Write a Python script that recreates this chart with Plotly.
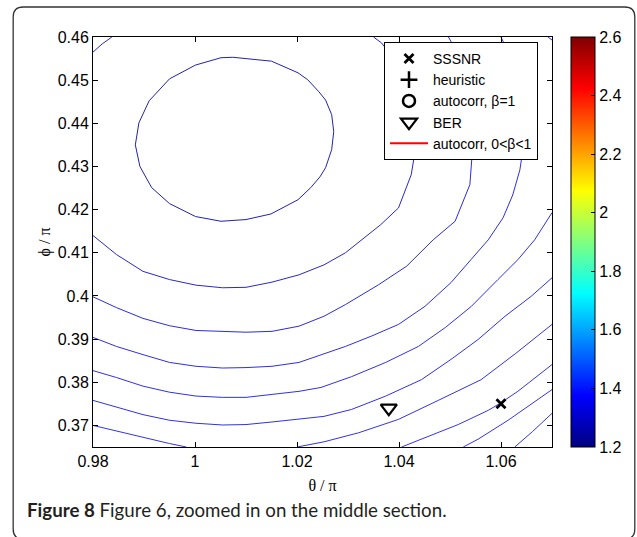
import plotly.graph_objects as go

# ---------------- data ----------------
x_ticks = [0.98, 1.0, 1.02, 1.04, 1.06]
x_ticktext = ["0.98", "1", "1.02", "1.04", "1.06"]
y_ticks = [0.37, 0.38, 0.39, 0.40, 0.41, 0.42, 0.43, 0.44, 0.45, 0.46]
y_ticktext = ["0.37", "0.38", "0.39", "0.4", "0.41", "0.42", "0.43", "0.44", "0.45", "0.46"]
cbar_ticks = [1.2, 1.4, 1.6, 1.8, 2.0, 2.2, 2.4, 2.6]
cbar_ticktext = ["1.2", "1.4", "1.6", "1.8", "2", "2.2", "2.4", "2.6"]

# contour lines (theta/pi, phi/pi)
ring1_x = [1.0074, 1.0150, 1.0202, 1.0221, 1.0243, 1.0256, 1.0268, 1.0272, 1.0268, 1.0256, 1.0245,
           1.0227, 1.0202, 1.0149, 1.0100, 1.0051, 1.0001, 0.9950, 0.9915, 0.9892, 0.9883, 0.9890,
           0.9910, 0.9950, 1.0001, 1.0051, 1.0074]
ring1_y = [0.4553, 0.4544, 0.4517, 0.4501, 0.4473, 0.4454, 0.4420, 0.4381, 0.4339, 0.4297, 0.4276,
           0.4251, 0.4223, 0.4190, 0.4177, 0.4173, 0.4184, 0.4214, 0.4251, 0.4300, 0.4350, 0.4401,
           0.4452, 0.4503, 0.4535, 0.4552, 0.4553]
ring2a_x = [0.98, 0.9818, 0.9837]
ring2a_y = [0.4565, 0.4584, 0.46]
ring2_x = [0.98, 0.9823, 0.9846, 0.9898, 0.9950, 1.0002, 1.0054, 1.0100, 1.0151, 1.0204, 1.0253,
           1.0295, 1.0327, 1.0364, 1.0399, 1.0424, 1.0432, 1.0436, 1.0432, 1.0420, 1.0399, 1.0366, 1.0350]
ring2_y = [0.4140, 0.4119, 0.4096, 0.4057, 0.4038, 0.4025, 0.4019, 0.4020, 0.4032, 0.4049, 0.4072,
           0.4100, 0.4130, 0.4165, 0.4204, 0.4281, 0.4339, 0.4373, 0.4420, 0.4477, 0.4535, 0.4586, 0.46]
ring3_x = [0.98, 0.9846, 0.9898, 0.9950, 1.0002, 1.0054, 1.0100, 1.0151, 1.0204, 1.0253, 1.0295,
           1.0360, 1.0415, 1.0467, 1.0510, 1.0539, 1.0545, 1.0547, 1.0541, 1.0526, 1.0506, 1.0497]
ring3_y = [0.3998, 0.3973, 0.3948, 0.3931, 0.3920, 0.3917, 0.3916, 0.3918, 0.3930, 0.3953, 0.3980,
           0.4026, 0.4069, 0.4130, 0.4173, 0.4258, 0.4339, 0.4385, 0.4454, 0.4524, 0.4581, 0.46]
ring4_x = [0.98, 0.9846, 0.9898, 0.9950, 1.0002, 1.0054, 1.0100, 1.0151, 1.0204, 1.0247, 1.0295,
           1.0346, 1.0399, 1.0451, 1.0502, 1.0541, 1.0575, 1.0604, 1.0623, 1.0637, 1.0643, 1.0645,
           1.0641, 1.0629, 1.0614, 1.0600]
ring4_y = [0.3904, 0.3883, 0.3864, 0.3846, 0.3837, 0.3833, 0.3834, 0.3837, 0.3846, 0.3863, 0.3883,
           0.3907, 0.3934, 0.3976, 0.4031, 0.4084, 0.4130, 0.4181, 0.4234, 0.4292, 0.4339, 0.4385,
           0.4443, 0.4512, 0.4565, 0.46]
ring5_x = [0.98, 0.9846, 0.9898, 0.9950, 1.0002, 1.0054, 1.0100, 1.0151, 1.0204, 1.0247, 1.0307,
           1.0374, 1.0438, 1.0491, 1.0541, 1.0594, 1.0633, 1.0666, 1.07]
ring5_y = [0.3827, 0.3811, 0.3791, 0.3777, 0.3768, 0.3765, 0.3765, 0.3772, 0.3779, 0.3788, 0.3813,
           0.3846, 0.3883, 0.3927, 0.3975, 0.4038, 0.4084, 0.4130, 0.4193]
ring5b_x = [1.0692, 1.07]
ring5b_y = [0.46, 0.4593]
ring6_x = [0.98, 0.9846, 0.9898, 0.9950, 1.0002, 1.0054, 1.0100, 1.0151, 1.0204, 1.0253, 1.0307,
           1.0374, 1.0444, 1.0502, 1.0555, 1.0608, 1.0659, 1.07]
ring6_y = [0.3758, 0.3742, 0.3725, 0.3712, 0.3705, 0.3701, 0.3702, 0.3708, 0.3714, 0.3721, 0.3737,
           0.3768, 0.3806, 0.3853, 0.3899, 0.3953, 0.3999, 0.4042]
ring7a_x = [0.98, 0.9846, 0.9898, 0.9950, 0.9983]
ring7a_y = [0.3700, 0.3687, 0.3672, 0.3658, 0.3650]
ring7b_x = [1.0200, 1.0253, 1.0321, 1.0399, 1.0477, 1.0561, 1.0629, 1.07]
ring7b_y = [0.3650, 0.3662, 0.3683, 0.3714, 0.3758, 0.3806, 0.3867, 0.3934]
ring8_x = [1.0405, 1.0458, 1.0516, 1.0575, 1.0598, 1.0633, 1.07]
ring8_y = [0.3650, 0.3675, 0.3702, 0.3735, 0.3751, 0.3779, 0.3841]
ring9_x = [1.0526, 1.0555, 1.0614, 1.0672, 1.07]
ring9_y = [0.3650, 0.3668, 0.3712, 0.3760, 0.3783]
ring10_x = [1.0627, 1.0662, 1.07]
ring10_y = [0.3650, 0.3686, 0.3728]

# estimator points
sssnr_x = [1.06]
sssnr_y = [0.375]
ber_x = [1.038]
ber_y = [0.374]

# ---------------- figure ----------------
fig = go.Figure()

contours = [
    (ring1_x, ring1_y, "#2222b0"),
    (ring2a_x, ring2a_y, "#2828cc"),
    (ring2_x, ring2_y, "#2828cc"),
    (ring3_x, ring3_y, "#2c2cdc"),
    (ring4_x, ring4_y, "#2e2ee4"),
    (ring5_x, ring5_y, "#3030e8"),
    (ring5b_x, ring5b_y, "#3030e8"),
    (ring6_x, ring6_y, "#3030ea"),
    (ring7a_x, ring7a_y, "#3232ec"),
    (ring7b_x, ring7b_y, "#3232ec"),
    (ring8_x, ring8_y, "#3434ee"),
    (ring9_x, ring9_y, "#3434ee"),
    (ring10_x, ring10_y, "#3434ee"),
]
for cx, cy, col in contours:
    fig.add_trace(go.Scatter(x=cx, y=cy, mode="lines", line=dict(color=col, width=1),
                             showlegend=False, hoverinfo="skip"))

fig.add_trace(go.Scatter(x=sssnr_x, y=sssnr_y, mode="markers", name="SSSNR",
                         marker=dict(symbol="x-thin", size=9, color="black",
                                     line=dict(color="black", width=2.8))))
fig.add_trace(go.Scatter(x=[None], y=[None], mode="markers", name="heuristic",
                         marker=dict(symbol="cross-thin", size=12, color="black",
                                     line=dict(color="black", width=2.5))))
fig.add_trace(go.Scatter(x=[None], y=[None], mode="markers", name="autocorr, β=1",
                         marker=dict(symbol="circle-open", size=12, color="black",
                                     line=dict(color="black", width=2.5))))
fig.add_trace(go.Scatter(x=ber_x, y=ber_y, mode="markers", name="BER",
                         marker=dict(symbol="triangle-down-open", size=14, color="black",
                                     line=dict(color="black", width=2.2))))
fig.add_trace(go.Scatter(x=[None], y=[None], mode="lines", name="autocorr, 0&lt;β&lt;1",
                         line=dict(color="red", width=2)))

jet = [[0.0, "rgb(0,0,128)"], [0.125, "rgb(0,0,255)"], [0.375, "rgb(0,255,255)"],
       [0.625, "rgb(255,255,0)"], [0.875, "rgb(255,0,0)"], [1.0, "rgb(128,0,0)"]]
fig.add_trace(go.Scatter(
    x=[None], y=[None], mode="markers", showlegend=False, hoverinfo="skip",
    marker=dict(color=[cbar_ticks[0]], cmin=cbar_ticks[0], cmax=cbar_ticks[-1], colorscale=jet,
                showscale=True,
                colorbar=dict(thickness=24, thicknessmode="pixels", len=1.0, lenmode="fraction",
                              x=1.039, xanchor="left", y=0.5, yanchor="middle", xpad=0, ypad=0,
                              outlinewidth=1, outlinecolor="black",
                              tickvals=cbar_ticks, ticktext=cbar_ticktext,
                              ticks="inside", ticklen=4, tickcolor="black",
                              tickfont=dict(family="Liberation Sans", size=16, color="black")))))

# outer rounded frame (paper coords)
x0, x1 = -0.1739, 1.1804
yt, yb = 1.0732, -0.2244
rx, ry = 0.0217, 0.0244
path = (f"M {x0+rx},{yt} L {x1-rx},{yt} Q {x1},{yt} {x1},{yt-ry} L {x1},{yb+ry} "
        f"Q {x1},{yb} {x1-rx},{yb} L {x0+rx},{yb} Q {x0},{yb} {x0},{yb+ry} "
        f"L {x0},{yt-ry} Q {x0},{yt} {x0+rx},{yt} Z")

fig.update_layout(
    width=637, height=537,
    margin=dict(l=93, r=84, t=37, b=90),
    paper_bgcolor="white", plot_bgcolor="white",
    font=dict(family="Liberation Sans", size=16, color="black"),
    showlegend=True,
    legend=dict(x=0.6326, y=0.988, xanchor="left", yanchor="top",
                bgcolor="white", bordercolor="black", borderwidth=1,
                font=dict(family="Liberation Sans", size=14, color="black"),
                tracegroupgap=0, itemwidth=38),
    xaxis=dict(range=[0.98, 1.07], tickvals=x_ticks, ticktext=x_ticktext,
               ticks="inside", ticklen=5, tickcolor="black", showline=True, linecolor="black",
               linewidth=1, mirror="ticks", showgrid=False, zeroline=False,
               tickfont=dict(family="Liberation Sans", size=16),
               title=dict(text="θ / π", standoff=10,
                          font=dict(family="Liberation Serif", size=16))),
    yaxis=dict(range=[0.365, 0.46], tickvals=y_ticks, ticktext=y_ticktext,
               ticks="inside", ticklen=5, tickcolor="black", showline=True, linecolor="black",
               linewidth=1, mirror="ticks", showgrid=False, zeroline=False,
               tickfont=dict(family="Liberation Sans", size=16),
               title=dict(text="ϕ / π", standoff=3,
                          font=dict(family="Liberation Serif", size=16))),
    shapes=[dict(type="path", xref="paper", yref="paper", path=path,
                 line=dict(color="#333333", width=1.3), layer="below")],
    annotations=[dict(xref="paper", yref="paper", x=-0.148, y=-0.1537, xanchor="left",
                      yanchor="middle", showarrow=False,
                      text="<b>Figure 8</b> Figure 6, zoomed in on the middle section.",
                      font=dict(family="Lato", size=18.7, color="#231f20"))],
)

fig.write_html("out.html")
